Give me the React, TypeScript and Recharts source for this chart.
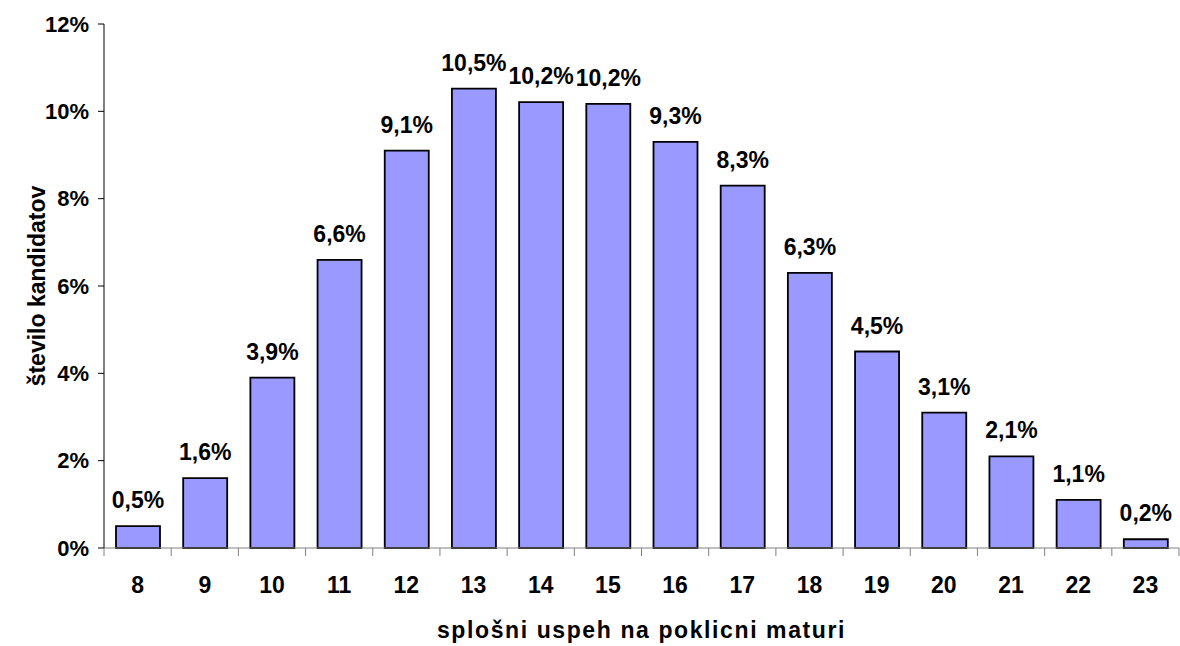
import React from 'react';
import { BarChart, Bar, XAxis, YAxis, LabelList } from 'recharts';

// grade categories and share of candidates (in %)
const grades = ['8', '9', '10', '11', '12', '13', '14', '15', '16', '17', '18', '19', '20', '21', '22', '23'];
const shares = [0.5, 1.6, 3.9, 6.6, 9.1, 10.52, 10.21, 10.17, 9.3, 8.3, 6.3, 4.5, 3.1, 2.1, 1.1, 0.2];
const yTicks = [0, 2, 4, 6, 8, 10, 12];

const data = grades.map((g, i) => ({ grade: g, share: shares[i] }));

const font = '"Liberation Sans", Arial, sans-serif';

const fmtLabel = (v: any) => `${Number(v).toFixed(1).replace('.', ',')}%`;

const TICK_SIZE = 8;
const TICK_MARGIN = 21;

// category label plus tick marks placed between the categories (Excel style)
const GradeTick = (props: any) => {
  const { x, y, payload, index, width, visibleTicksCount } = props;
  const half = width / visibleTicksCount / 2;
  const axisY = y - TICK_SIZE - TICK_MARGIN;
  return (
    <g>
      <line x1={x - half} x2={x - half} y1={axisY} y2={axisY + TICK_SIZE} stroke="#808080" />
      {index === visibleTicksCount - 1 && (
        <line x1={x + half} x2={x + half} y1={axisY} y2={axisY + TICK_SIZE} stroke="#808080" />
      )}
      <text
        x={x}
        y={y}
        dy="0.71em"
        textAnchor="middle"
        fill="#000"
        fontSize={23}
        fontWeight="bold"
        fontFamily={font}
      >
        {payload.value}
      </text>
    </g>
  );
};

const App: React.FC = () => {
  return (
    <div style={{ position: 'absolute', left: 0, top: 0, background: '#fff', fontFamily: font }}>
      <BarChart
        width={1180}
        height={646}
        data={data}
        margin={{ top: 24, right: 1, left: 0, bottom: 0 }}
      >
        <XAxis
          dataKey="grade"
          height={98}
          stroke="#808080"
          interval={0}
          tickSize={TICK_SIZE}
          tickMargin={TICK_MARGIN}
          tickLine={false}
          tick={<GradeTick />}
          label={{
            value: 'splošni uspeh na poklicni maturi',
            position: 'insideBottom',
            offset: 8,
            style: { fill: '#000', fontSize: 23, fontWeight: 'bold', fontFamily: font, letterSpacing: 1.6 },
          }}
        />
        <YAxis
          width={104}
          domain={[0, 12]}
          ticks={yTicks}
          interval={0}
          stroke="#000"
          tickSize={6}
          tickMargin={9}
          tickFormatter={(v: number) => `${v}%`}
          tick={{ fill: '#000', fontSize: 22, fontWeight: 'bold', fontFamily: font }}
          label={{
            value: 'število kandidatov',
            angle: -90,
            position: 'insideLeft',
            offset: 37,
            style: { fill: '#000', fontSize: 23, fontWeight: 'bold', fontFamily: font, textAnchor: 'middle' },
          }}
        />
        <Bar
          dataKey="share"
          fill="#9999FF"
          stroke="#000"
          strokeWidth={1.8}
          barSize={44}
          isAnimationActive={false}
        >
          <LabelList
            dataKey="share"
            position="top"
            offset={18}
            formatter={fmtLabel}
            style={{ fill: '#000', fontSize: 23, fontWeight: 'bold', fontFamily: font }}
          />
        </Bar>
      </BarChart>
    </div>
  );
};

export default App;
